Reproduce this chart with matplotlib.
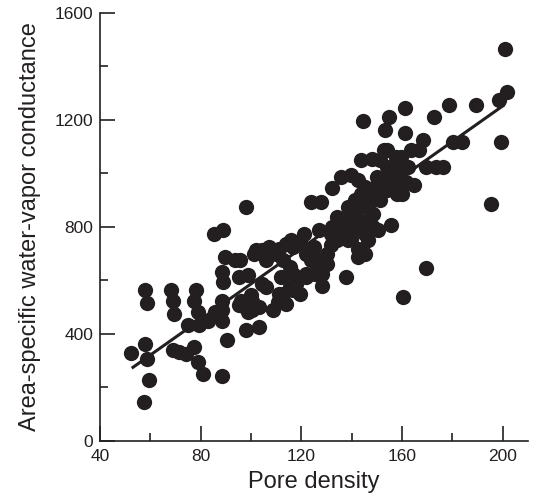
import matplotlib
matplotlib.use("Agg")
import matplotlib.pyplot as plt
from matplotlib.ticker import MultipleLocator

# pore density vs area-specific water-vapor conductance
pore_density = [
    52.4, 57.9, 58.5, 57.9, 58.8, 59.5, 57.6,
    68.4, 69.0, 69.4, 69.1, 71.4, 74.1, 74.8,
    78.2, 77.5, 78.8, 79.5, 77.5, 78.8, 81.1,
    85.3, 89.0, 82.9, 85.6, 88.3, 88.3, 88.3, 89.0, 89.7, 90.3, 88.3, 88.3,
    93.7, 95.1, 95.1, 98.1, 95.8, 97.8, 99.8, 100.5, 98.6, 101.8, 100.5,
    103.2, 104.5, 105.9, 108.6, 107.3, 111.3, 114.0, 116.0, 112.7, 115.3,
    112.0, 112.7, 114.0, 110.6, 116.7, 119.4, 118.0, 122.0, 121.0, 123.7,
    123.7, 127.8, 127.0, 124.9, 126.3, 129.0, 130.3, 128.3, 128.3,
    131.6, 132.3, 134.3, 135.7, 137.7, 132.3, 135.7, 139.7, 142.4, 141.1,
    142.4, 139.7, 141.1, 143.8, 143.8, 146.5, 143.8, 147.9, 144.5,
    151.3, 152.7, 153.4, 154.7, 150.0, 151.3, 148.6, 146.5, 145.1, 148.6,
    155.4, 154.0, 155.4, 158.1, 157.4, 161.0, 161.3, 160.1, 162.2, 164.9,
    163.5, 166.9, 168.2, 169.5, 172.5, 173.6, 176.3, 178.7, 180.3, 183.7,
    189.5, 198.6, 201.7, 200.7, 199.3, 195.2, 169.5, 160.3,
    142.4, 145.1, 147.9, 150.6, 141.1, 138.4, 138.4, 143.8, 146.5, 148.6,
    147.2, 150.0, 152.7, 154.0, 156.1, 158.1, 156.8, 155.4, 154.0, 159.4,
    161.5, 159.4,
    110.0, 116.7, 119.4, 105.9, 104.5, 101.1, 96.2, 97.5, 103.0, 98.6,
    111.3, 115.3, 116.7, 118.0, 122.0, 125.3, 127.3, 122.0, 123.7, 130.3,
    131.6, 134.3, 133.6, 134.9, 137.0, 138.4, 139.7, 141.1, 143.8, 145.1,
]
conductance = [
    327, 362, 306, 564, 514, 228, 144,
    564, 524, 472, 340, 331, 325, 431,
    564, 524, 481, 431, 350, 293, 250,
    774, 789, 449, 481, 449, 524, 630, 593, 687, 375, 243, 487,
    674, 612, 506, 874, 674, 412, 543, 487, 618, 712, 524,
    424, 587, 574, 487, 724, 718, 737, 749, 674, 649,
    612, 549, 512, 518, 562, 549, 599, 624, 774, 687,
    893, 893, 787, 724, 680, 668, 662, 580, 624,
    774, 799, 836, 774, 612, 943, 986, 992, 974, 899,
    718, 755, 787, 818, 874, 899, 1049, 1055, 1196,
    1049, 1086, 1161, 1211, 955, 899, 849, 749, 699, 799,
    805, 1024, 974, 999, 1061, 1149, 1242, 924, 1024, 955,
    1086, 1086, 1124, 1024, 1211, 1024, 1024, 1255, 1117, 1117,
    1255, 1273, 1305, 1463, 1117, 884, 647, 539,
    687, 774, 799, 787, 836, 799, 749, 712, 824, 899,
    924, 986, 949, 937, 949, 924, 1024, 999, 1086, 974,
    968, 1061,
    699, 724, 743, 674, 712, 699, 524, 499, 499, 481,
    549, 574, 624, 587, 612, 624, 649, 699, 674, 699,
    730, 749, 787, 812, 824, 874, 849, 893, 924, 949,
]

# regression line endpoints as drawn in the figure
fit_x = [52.6, 200.5]
fit_y = [271, 1255]

ink = "#231f20"

plt.rcParams["font.family"] = ["Liberation Sans", "DejaVu Sans"]

fig = plt.figure(figsize=(5.33, 4.95), dpi=100)
ax = fig.add_axes([0.1876, 0.1097, 0.803, 0.8646])

ax.plot(pore_density, conductance, "o", color=ink, markersize=11,
        markeredgewidth=0, linestyle="none", zorder=3)
ax.plot(fit_x, fit_y, color=ink, linewidth=2.2, solid_capstyle="butt", zorder=4)

ax.set_xlim(40, 210)
ax.set_ylim(0, 1600)
ax.xaxis.set_major_locator(MultipleLocator(40))
ax.xaxis.set_minor_locator(MultipleLocator(20))
ax.yaxis.set_major_locator(MultipleLocator(400))
ax.yaxis.set_minor_locator(MultipleLocator(200))

for side in ("top", "right"):
    ax.spines[side].set_visible(False)
for side in ("left", "bottom"):
    ax.spines[side].set_linewidth(1.2)
    ax.spines[side].set_color(ink)

ax.tick_params(which="major", direction="in", length=10.5, width=1.2,
               colors=ink, labelsize=12.5, pad=5)
ax.tick_params(which="minor", direction="in", length=5.8, width=1.2, colors=ink)
ax.tick_params(axis="x", which="major", pad=6)

ax.set_xlabel("Pore density", fontsize=17, color=ink, labelpad=5)
ax.set_ylabel("Area-specific water-vapor conductance", fontsize=17,
              color=ink, labelpad=10)

fig.savefig("out.png", dpi=100)
